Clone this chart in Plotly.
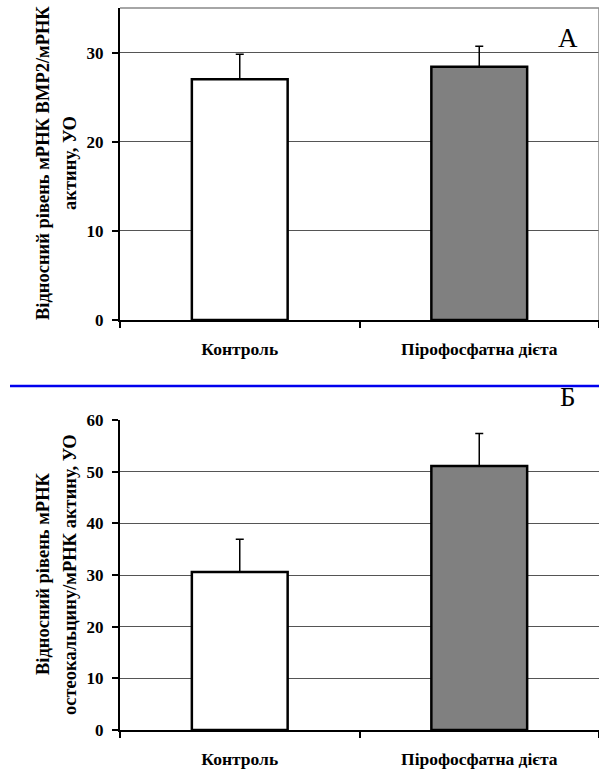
import plotly.graph_objects as go

categories = ["Контроль", "Пірофосфатна дієта"]
bmp2_values = [27.0, 28.4]
bmp2_errors = [2.8, 2.3]
ocn_values = [30.6, 51.1]
ocn_errors = [6.3, 6.3]
bar_colors = ["#ffffff", "#808080"]
top_ticks = [0, 10, 20, 30]
bottom_ticks = [0, 10, 20, 30, 40, 50, 60]

W, H = 599, 771
FONT = "Liberation Serif, Times New Roman, serif"

def py(p):
    return 1 - p / H

fig = go.Figure()

err_style = dict(type="data", symmetric=False, thickness=1.5, width=4, color="black")

fig.add_trace(go.Bar(
    x=categories, y=bmp2_values, width=0.4,
    marker=dict(color=bar_colors, line=dict(color="black", width=2.5)),
    error_y=dict(array=bmp2_errors, arrayminus=[0, 0], **err_style),
    xaxis="x", yaxis="y", showlegend=False))

fig.add_trace(go.Bar(
    x=categories, y=ocn_values, width=0.4,
    marker=dict(color=bar_colors, line=dict(color="black", width=2.5)),
    error_y=dict(array=ocn_errors, arrayminus=[0, 0], **err_style),
    xaxis="x2", yaxis="y2", showlegend=False))

xdom = [120 / W, 1]
tickfont = dict(family=FONT, size=17, color="black", weight="bold")
xcommon = dict(domain=xdom, showline=True, linecolor="black", linewidth=2, automargin=False,
               ticks="outside", tickson="boundaries", ticklen=6, tickwidth=1.5,
               tickcolor="black", tickfont=dict(family=FONT, size=17.5, color="black", weight="bold"),
               ticklabelstandoff=12, showgrid=False, range=[-0.5, 1.5], fixedrange=True)
ycommon = dict(showline=True, linecolor="black", linewidth=2, ticks="outside", automargin=False,
               ticklen=6, tickwidth=1.5, tickcolor="black", tickfont=tickfont,
               showgrid=True, gridcolor="#555555", gridwidth=1, zeroline=False,
               ticklabelstandoff=5, fixedrange=True)

fig.update_layout(
    width=W, height=H, autosize=False,
    margin=dict(l=0, r=0, t=0, b=0, pad=0),
    paper_bgcolor="white", plot_bgcolor="white",
    xaxis=dict(anchor="y", **xcommon),
    yaxis=dict(domain=[py(320), py(8)], range=[0, 35], tickvals=top_ticks, anchor="x", **ycommon),
    xaxis2=dict(anchor="y2", **xcommon),
    yaxis2=dict(domain=[py(730), py(420)], range=[0, 60], tickvals=bottom_ticks, anchor="x2", **ycommon),
)

# borders of the top panel
fig.add_shape(type="line", xref="x domain", yref="y domain", x0=0, x1=1, y0=1, y1=1,
              line=dict(color="#888888", width=1.5))
fig.add_shape(type="line", xref="x domain", yref="y domain", x0=1, x1=1, y0=0, y1=1,
              line=dict(color="#888888", width=1.5))
# blue separator line
fig.add_shape(type="line", xref="paper", yref="paper", x0=10 / W, x1=1, y0=py(386), y1=py(386),
              line=dict(color="#0000ee", width=2.5))

title_font = dict(family=FONT, size=18.5, color="black", weight="bold")
ann = [
    ("Відносний рівень мРНК BMP2/мРНК", 43, 163),
    ("актину, УО", 70, 163),
    ("Відносний рівень мРНК", 43, 574),
    ("остеокальцину/мРНК актину, УО", 70, 575),
]
for txt, x, y in ann:
    fig.add_annotation(text=txt, xref="paper", yref="paper", x=x / W, y=py(y),
                       xanchor="center", yanchor="middle", textangle=-90,
                       showarrow=False, font=title_font)

fig.add_annotation(text="А", xref="paper", yref="paper", x=568 / W, y=py(38),
                   xanchor="center", yanchor="middle", showarrow=False,
                   font=dict(family=FONT, size=27, color="black"))
fig.add_annotation(text="Б", xref="paper", yref="paper", x=568 / W, y=py(397),
                   xanchor="center", yanchor="middle", showarrow=False,
                   font=dict(family=FONT, size=27, color="black"))

fig.write_html("out.html", config={"displayModeBar": False},
               post_script="document.body.style.margin='0';document.body.style.overflow='hidden';")
